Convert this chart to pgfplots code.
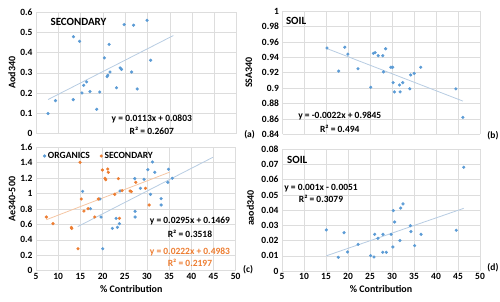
\documentclass[border=0pt]{standalone}
\usepackage{pgfplots}
\pgfplotsset{compat=1.18}
\usepackage{fontspec}
\setmainfont{Carlito}
\definecolor{xblue}{HTML}{5B9BD5}
\definecolor{xorange}{HTML}{ED7D31}
\definecolor{tblue}{HTML}{B7CCE2}
\definecolor{torange}{HTML}{F5C6A3}
\definecolor{gridc}{HTML}{DDDDDD}
\pgfplotsset{
  panel/.style={
    scale only axis, anchor=south west,
    xmin=5, xmax=50, xtick={5,10,...,50},
    grid=major, major grid style={draw=gridc, line width=0.5pt},
    axis line style={draw=none}, major tick length=0pt,
    /pgf/number format/assume math mode=true,
    /pgf/number format/fixed, /pgf/number format/precision=2,
    scaled y ticks=false,
    tick label style={font=\fontsize{9.5}{10}\selectfont\bfseries},
    xticklabel style={yshift=1pt},
    label style={font=\fontsize{10}{11}\selectfont\bfseries},
    clip=false,
  },
  pts/.style={only marks, mark=*, mark size=1.4pt, color=#1, mark options={solid, draw=#1, fill=#1}},
  trend/.style={no marks, color=#1, line width=0.8pt},
}
\newcommand{\tf}{\fontsize{9.5}{11}\selectfont\bfseries}
\begin{document}
\begin{tikzpicture}
\useasboundingbox (0,0) rectangle (500pt,302pt);
% (a)
\begin{axis}[panel, at={(36pt,168.7pt)}, width=200.7pt, height=121pt,
  ymin=0, ymax=0.6, ytick={0,0.1,0.2,0.3,0.4,0.5,0.6}, xticklabels={},
  ylabel={Aod340}, ylabel style={at={(axis description cs:-0.12,0.5)}, anchor=center}]
\addplot[pts=xblue] coordinates {
(7.7,0.098) (9.36,0.162) (13.35,0.167) (13.4,0.479) (14.77,0.456) (15.3,0.200)
(15.68,0.238) (16.35,0.255) (17.1,0.207) (18.6,0.119) (19.29,0.205) (20.34,0.374)
(20.94,0.281) (21.1,0.288) (21.4,0.441) (21.6,0.304) (23.05,0.226) (23.87,0.324)
(24.17,0.317) (24.77,0.539) (26.43,0.304) (26.88,0.536) (27.7,0.220) (29.9,0.560)
(30.7,0.362)};
\addplot[trend=tblue] coordinates {(7.7,0.1673) (35.8,0.4848)};
\node[anchor=west,font=\fontsize{11}{12}\selectfont\bfseries] at (axis description cs:0.055,0.92) {SECONDARY};
\node[font=\tf] at (axis description cs:0.577,0.118) {y = 0.0113x + 0.0803};
\node[font=\tf] at (axis description cs:0.577,0.02) {R² = 0.2607};
\node[anchor=west,font=\tf] at (axis description cs:1.02,-0.01) {(a)};
\end{axis}
% (b)
\begin{axis}[panel, at={(282.5pt,167.7pt)}, width=197.5pt, height=123.3pt,
  ymin=0.84, ymax=1, ytick={0.84,0.86,0.88,0.9,0.92,0.94,0.96,0.98,1}, xticklabels={},
  ylabel={SSA340}, ylabel style={at={(axis description cs:-0.17,0.5)}, anchor=center}]
\addplot[pts=xblue] coordinates {
(15.15,0.952) (17.8,0.922) (19.2,0.953) (19.9,0.944) (22.2,0.925) (25.1,0.901)
(25.7,0.945) (26.1,0.946) (26.8,0.942) (27.85,0.942) (28.0,0.921) (28.5,0.951)
(29.7,0.927) (30.1,0.927) (30.2,0.907) (30.5,0.895) (31.65,0.904) (31.8,0.895)
(32.4,0.907) (34.0,0.899) (34.2,0.917) (35.0,0.919) (36.5,0.927) (44.5,0.899)
(46.1,0.862)};
\addplot[trend=tblue] coordinates {(15.15,0.9512) (46.1,0.8831)};
\node[anchor=west,font=\fontsize{11}{12}\selectfont\bfseries] at (axis description cs:0.0,0.919) {SOIL};
\node[font=\tf] at (axis description cs:0.29,0.148) {y = -0.0022x + 0.9845};
\node[font=\tf] at (axis description cs:0.29,0.043) {R² = 0.494};
\node[anchor=west,font=\tf] at (axis description cs:1.02,-0.01) {(b)};
\end{axis}
% (c)
\begin{axis}[panel, at={(36pt,31.3pt)}, width=199.7pt, height=123.4pt,
  ymin=0, ymax=1.6, ytick={0,0.2,0.4,0.6,0.8,1,1.2,1.4,1.6},
  xlabel={\% Contribution}, xlabel style={at={(axis description cs:0.477,-0.15)}, anchor=center},
  ylabel={Ae340-500}, ylabel style={at={(axis description cs:-0.12,0.58)}, anchor=center},
  legend style={at={(axis description cs:0.02,0.995)}, anchor=north west, draw=none, fill=none,
    font=\fontsize{9.5}{10}\selectfont\bfseries, legend columns=2,
    /tikz/every even column/.append style={column sep=8pt}},
  legend cell align=left]
\addplot[pts=xblue] coordinates {
(15.5,1.029) (17.26,0.804) (19.4,0.930) (19.66,0.696) (20.04,0.285) (22.2,0.549)
(23.05,0.679) (23.35,0.562) (23.8,0.610) (23.95,1.034) (27.26,1.194) (27.33,0.770)
(27.33,0.696) (28.53,1.068) (29.36,1.185) (30.2,1.310) (30.8,0.990) (31.24,1.410)
(31.77,1.276) (33.2,0.934) (33.2,0.852) (34.7,1.146) (34.85,1.315) (35.7,1.198)};
\addlegendentry{ORGANICS}
\addplot[pts=xorange] coordinates {
(7.33,0.696) (8.83,0.610) (12.97,0.562) (13.05,0.549) (14.47,0.285) (14.92,1.405)
(15.2,0.930) (15.8,0.774) (16.73,0.804) (18.23,0.696) (19.06,0.930) (19.96,1.306)
(20.56,1.198) (20.7,1.180) (21.17,1.319) (21.3,1.276) (22.74,0.990) (23.57,1.194)
(23.8,0.679) (24.4,1.038) (26.2,1.034) (26.5,1.025) (27.48,1.146) (29.66,1.068)
(30.5,0.852)};
\addlegendentry{SECONDARY}
\addplot[trend=tblue, forget plot] coordinates {(14.4,0.5717) (44.85,1.4700)};
\addplot[trend=torange, forget plot] coordinates {(7.33,0.6610) (35.1,1.2775)};
\node[font=\tf] at (axis description cs:0.771,0.403) {y = 0.0295x + 0.1469};
\node[font=\tf] at (axis description cs:0.771,0.297) {R² = 0.3518};
\node[font=\tf, text=xorange] at (axis description cs:0.771,0.152) {y = 0.0222x + 0.4983};
\node[font=\tf, text=xorange] at (axis description cs:0.771,0.062) {R² = 0.2197};
\node[anchor=west,font=\tf] at (axis description cs:1.02,0.01) {(c)};
\end{axis}
% (d)
\begin{axis}[panel, at={(282pt,31pt)}, width=198pt, height=121.7pt,
  ymin=0, ymax=0.08, ytick={0,0.01,0.02,0.03,0.04,0.05,0.06,0.07,0.08},
  xlabel={\% Contribution}, xlabel style={at={(axis description cs:0.5,-0.15)}, anchor=center},
  ylabel={aaod340}, ylabel style={at={(axis description cs:-0.16,0.517)}, anchor=center}]
\addplot[pts=xblue] coordinates {
(15.08,0.0270) (17.8,0.0090) (19.1,0.0252) (19.9,0.0125) (22.3,0.0175) (25.15,0.0101)
(25.9,0.0092) (26.06,0.0241) (26.8,0.0215) (27.9,0.0123) (27.95,0.0241) (28.7,0.0123)
(29.8,0.0241) (30.2,0.0158) (30.3,0.0397) (30.6,0.0322) (31.8,0.0200) (31.97,0.0414)
(32.5,0.0441) (34.17,0.0298) (34.3,0.0259) (35.15,0.0167) (36.6,0.0241) (44.6,0.0268)
(46.3,0.0682)};
\addplot[trend=tblue] coordinates {(15.08,0.00998) (46.3,0.0412)};
\node[anchor=west,font=\fontsize{11}{12}\selectfont\bfseries] at (axis description cs:0.008,0.912) {SOIL};
\node[font=\tf] at (axis description cs:0.197,0.68) {y = 0.001x - 0.0051};
\node[font=\tf] at (axis description cs:0.197,0.597) {R² = 0.3079};
\node[anchor=west,font=\tf] at (axis description cs:1.02,0.03) {(d)};
\end{axis}
\end{tikzpicture}
\end{document}
